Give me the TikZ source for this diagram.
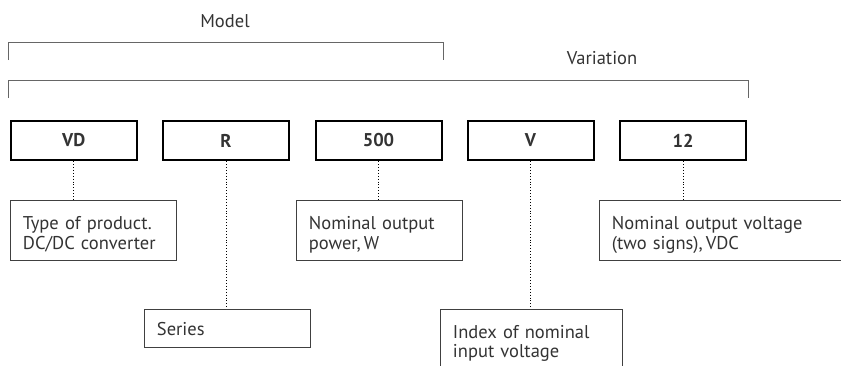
\documentclass[tikz,border=0pt]{standalone}
\usepackage{fontspec}
\setmainfont{PT Sans}
\definecolor{txt}{HTML}{333333}
\definecolor{brk}{HTML}{666666}
\begin{document}
\begin{tikzpicture}[x=1pt,y=-1pt,
  codebox/.style={draw=black,line width=2pt,minimum width=126pt,minimum height=39.5pt,inner sep=0pt,font=\fontsize{18.5}{20}\selectfont\bfseries,text=txt},
  descbox/.style={draw=black!75,line width=0.9pt,anchor=north west,inner xsep=13pt,inner ysep=0pt,align=left,font=\fontsize{18.5}{19.5}\selectfont,text=txt},
  twoline/.style={text height=29.5pt,text depth=30.5pt},
  dotline/.style={draw=black,line width=0.9pt,dotted},
  bracket/.style={draw=brk,line width=1pt},
  title/.style={font=\fontsize{18.5}{20}\selectfont,text=txt}]
\useasboundingbox (0,0) rectangle (841,365);
% code boxes
\node[codebox] (vd) at (73.75,140.5) {VD};
\node[codebox] (r) at (226,140.5) {R};
\node[codebox] (p) at (378.5,140.5) {500};
\node[codebox] (v) at (530.5,140.5) {V};
\node[codebox] (n) at (683,140.5) {12};
% brackets
\node[title] (model) at (225,21) {Model};
\node[title] (var) at (602,58) {Variation};
\draw[bracket] ([xshift=-1pt]vd.west |- 0,60) -- ([xshift=-1pt]vd.west |- 0,42) -- ([xshift=1pt]p.east |- 0,42) -- ([xshift=1pt]p.east |- 0,60);
\draw[bracket] ([xshift=-1pt]vd.west |- 0,98) -- ([xshift=-1pt]vd.west |- 0,80.5) -- ([xshift=1pt]n.east |- 0,80.5) -- ([xshift=1pt]n.east |- 0,98);
% description boxes
\node[descbox,twoline,text width=140pt] (d1) at (9.5,200) {Type of product.\\DC/DC converter};
\node[descbox,text width=140pt,text height=26.5pt,text depth=12pt] (d2) at (143.5,308.5) {Series};
\node[descbox,twoline,text width=140pt] (d3) at (295.5,200) {Nominal output\\power,\,W};
\node[descbox,twoline,text width=156pt] (d4) at (439.5,308.5) {Index of nominal\\input voltage};
\node[descbox,twoline,text width=236pt] (d5) at (598.5,200) {Nominal output voltage\\(two signs),\,VDC};
% connectors
\draw[dotline] (vd.south) -- (vd.south |- d1.north);
\draw[dotline] (r.south) -- (r.south |- d2.north);
\draw[dotline] (p.south) -- (p.south |- d3.north);
\draw[dotline] (v.south) -- (v.south |- d4.north);
\draw[dotline] (n.south) -- (n.south |- d5.north);
\end{tikzpicture}
\end{document}
